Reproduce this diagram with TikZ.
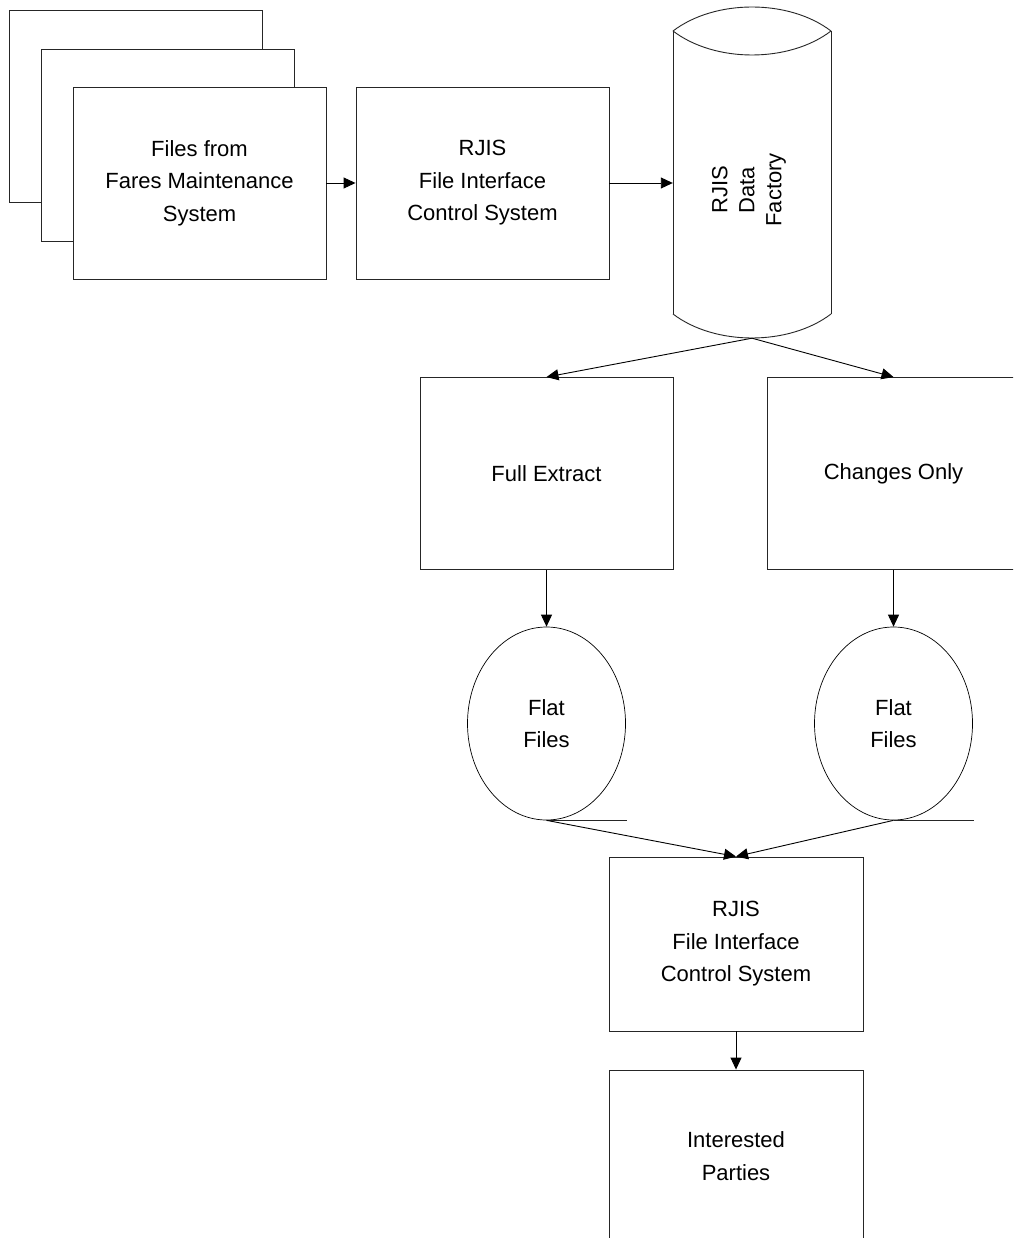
\documentclass[tikz,border=0pt]{standalone}
\usepackage{fontspec}
\setmainfont{Liberation Sans}
\usetikzlibrary{arrows.meta,shapes.geometric}
\begin{document}
\begin{tikzpicture}[x=1pt,y=-1pt,
  lbl/.style={font=\fontsize{22}{32.5}\selectfont, align=center},
  box/.style={lbl, draw=black!85, line width=0.9pt, fill=white, minimum width=253pt, minimum height=192pt, inner sep=0pt},
  sheet/.style={draw=black!85, line width=0.9pt, fill=white},
  flat/.style={lbl, draw=black, line width=0.7pt, ellipse, minimum width=158pt, minimum height=193pt, inner sep=0pt},
  conn/.style={draw=black, line width=0.9pt, -{Triangle[length=12pt,width=11pt]}},
  plain/.style={draw=black!85, line width=0.9pt},
]
\clip (0,0) rectangle (1013,1238);
\fill[white] (0,0) rectangle (1013,1238);

% stacked documents
\draw[sheet] (9,10) rectangle (262,202);
\draw[sheet] (41,49) rectangle (294,241);
\node[box] (files) at (199.5,183) {Files from\\Fares Maintenance\\System};

% first control system
\node[box] (fics1) at (482.5,183) {RJIS\\File Interface\\Control System};

% data factory cylinder
\node[minimum width=158pt, minimum height=331pt, inner sep=0pt] (df) at (752,172.5) {};
\draw[plain] (673,31) .. controls (715,-1) and (789,-1) .. (831,31);
\draw[plain] (673,31) .. controls (715,63) and (789,63) .. (831,31);
\draw[plain] (673,31) -- (673,314);
\draw[plain] (831,31) -- (831,314);
\draw[plain] (673,314) .. controls (715,346) and (789,346) .. (831,314);
\node[font=\fontsize{22}{27}\selectfont, align=center, rotate=90] (dft) at (749,190) {RJIS\\Data\\Factory};

% extracts
\node[box] (full) at (546.5,473.5) {Full Extract};
\node[box] (chg) at (893.5,473.5) {Changes Only};

% flat files
\node[flat] (ff1) at (546.5,723.5) {Flat\\Files};
\node[flat] (ff2) at (893.5,723.5) {Flat\\Files};
\draw[plain] (ff1.south) -- ++(80,0);
\draw[plain] (ff2.south) -- ++(80,0);

% second control system and interested parties
\node[box, minimum width=254pt, minimum height=174pt] (fics2) at (736,944) {RJIS\\File Interface\\Control System};
\node[box, minimum width=254pt, minimum height=172pt] (ip) at (736,1156) {Interested\\Parties};

% connectors
\draw[conn] (files.east) -- (fics1.west);
\draw[conn] (fics1.east) -- (fics1.east -| df.west);
\draw[conn] (df.south) -- (full.north);
\draw[conn] (df.south) -- (chg.north);
\draw[conn] (full.south) -- (ff1.north);
\draw[conn] (chg.south) -- (ff2.north);
\draw[conn] (ff1.south) -- (fics2.north);
\draw[conn] (ff2.south) -- (fics2.north);
\draw[conn] (fics2.south) -- (ip.north);
\end{tikzpicture}
\end{document}
